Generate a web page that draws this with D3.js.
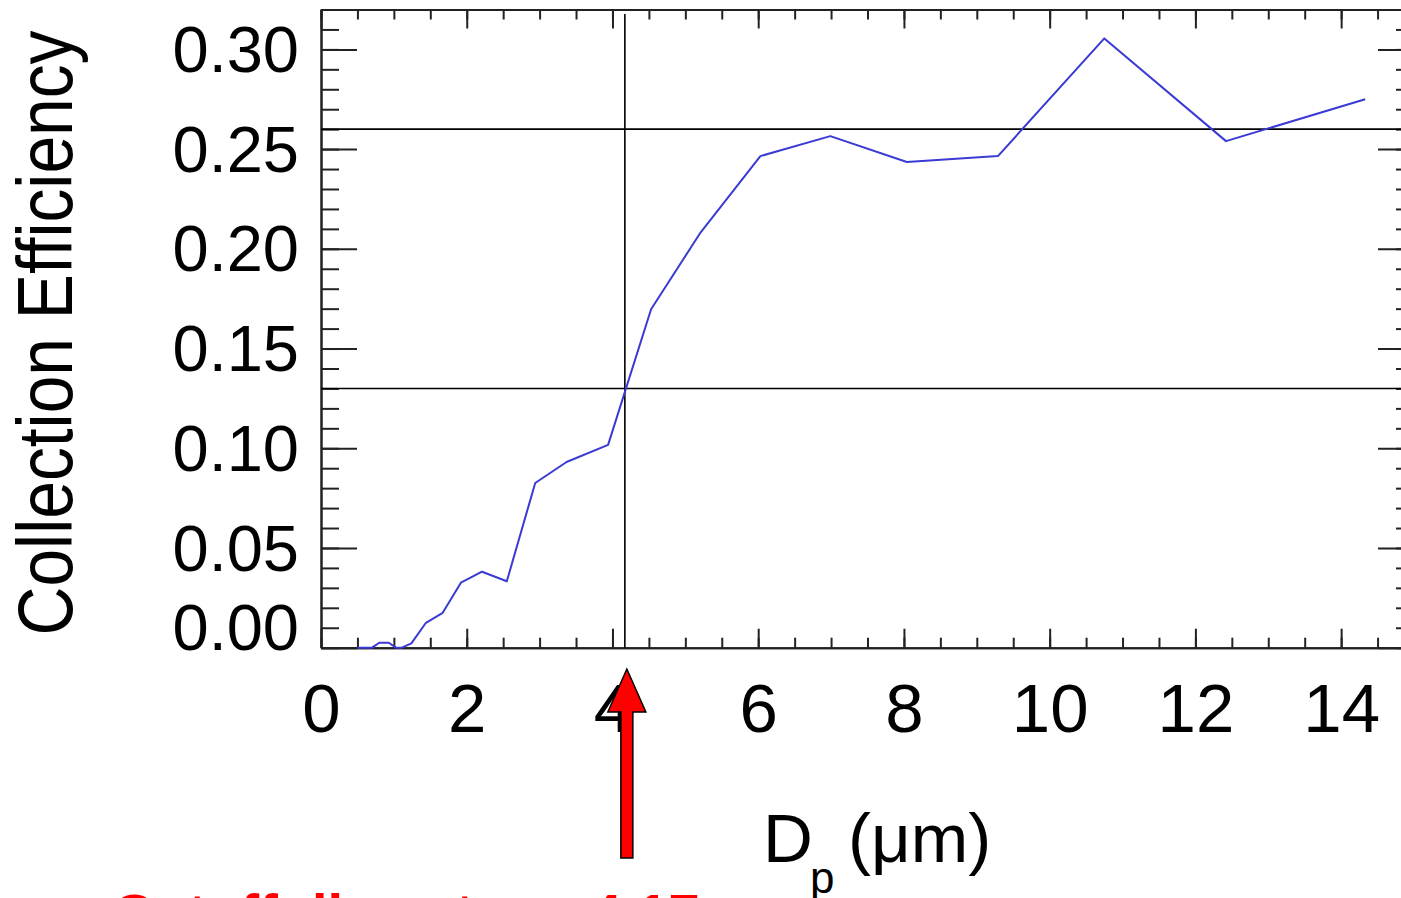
<!DOCTYPE html>
<html>
<head>
<meta charset="utf-8">
<script src="https://cdn.jsdelivr.net/npm/d3@7"></script>
<style>
  html, body { margin: 0; padding: 0; background: #fff; overflow: hidden; }
  svg { display: block; font-family: "Liberation Sans", Arial, Helvetica, sans-serif; }
</style>
</head>
<body>
<svg id="chart" width="1401" height="898"></svg>
<script>
// particle diameter (um) and collection efficiency
const diameters = [0.5, 0.70, 0.80, 0.93, 1.03, 1.11, 1.24, 1.44, 1.67, 1.92, 2.21, 2.55,
                   2.94, 3.37, 3.94, 4.53, 5.20, 6.03, 6.99, 8.04, 9.29, 10.75, 12.42, 14.33];
const efficiency = [0, 0, 0.0025, 0.0025, 0, 0, 0.0022, 0.0125, 0.0175, 0.0326, 0.0381, 0.0333,
                    0.0826, 0.0931, 0.1017, 0.1697, 0.2077, 0.2465, 0.2565, 0.2435, 0.2465, 0.3055, 0.254, 0.275];

const xTicks = [0, 2, 4, 6, 8, 10, 12, 14];
const yTicks = [0, 0.05, 0.10, 0.15, 0.20, 0.25, 0.30];

const plateau = 0.26;   // upper horizontal line
const halfLevel = 0.13; // 50% of plateau
const cutoff = 4.17;    // diameter where curve crosses half level

const svg = d3.select("#chart");

// plot frame goes past the right edge of the window, like the original
const plotL = 321, plotT = 9.5, plotR = 1414, plotB = 647.7;

const x = d3.scaleLinear().domain([0, 15]).range([plotL, plotR]);
const y = d3.scaleLinear().domain([0, 0.32]).range([plotB, plotT]);

const axisColor = "#222";

function styleAxis(g) {
    g.selectAll("path.domain").attr("stroke", axisColor).attr("stroke-width", 2);
    g.selectAll("line").attr("stroke", axisColor).attr("stroke-width", 2);
}

// minor ticks first
const xMinor = d3.range(0, 15.01, 0.5);
const yMinor = d3.range(0, 0.3201, 0.01);

svg.append("g").attr("transform", `translate(0,${plotB})`)
    .call(d3.axisBottom(x).tickValues(xMinor).tickFormat("").tickSize(-10).tickSizeOuter(0))
    .call(styleAxis);
svg.append("g").attr("transform", `translate(0,${plotT})`)
    .call(d3.axisTop(x).tickValues(xMinor).tickFormat("").tickSize(-10).tickSizeOuter(0))
    .call(styleAxis);
svg.append("g").attr("transform", `translate(${plotL},0)`)
    .call(d3.axisLeft(y).tickValues(yMinor).tickFormat("").tickSize(-18).tickSizeOuter(0))
    .call(styleAxis);
svg.append("g").attr("transform", `translate(${plotR},0)`)
    .call(d3.axisRight(y).tickValues(yMinor).tickFormat("").tickSize(-18).tickSizeOuter(0))
    .call(styleAxis);

// major ticks + labels
const xAxis = svg.append("g").attr("transform", `translate(0,${plotB})`)
    .call(d3.axisBottom(x).tickValues(xTicks).tickFormat(d3.format("d"))
        .tickSize(-19).tickSizeOuter(0).tickPadding(35))
    .call(styleAxis);
xAxis.selectAll("text")
    .attr("font-size", 69).attr("fill", "#000")
    .attr("font-family", "'Liberation Sans', Arial, sans-serif");

svg.append("g").attr("transform", `translate(0,${plotT})`)
    .call(d3.axisTop(x).tickValues(xTicks).tickFormat("").tickSize(-19).tickSizeOuter(0))
    .call(styleAxis);

const yAxis = svg.append("g").attr("transform", `translate(${plotL},0)`)
    .call(d3.axisLeft(y).tickValues(yTicks).tickFormat(d3.format(".2f"))
        .tickSize(-36).tickSizeOuter(0).tickPadding(22))
    .call(styleAxis);
yAxis.selectAll("text")
    .attr("font-size", 65).attr("fill", "#000")
    .attr("font-family", "'Liberation Sans', Arial, sans-serif")
    .attr("dy", d => d === 0 ? "0.02em" : "0.34em");

svg.append("g").attr("transform", `translate(${plotR},0)`)
    .call(d3.axisRight(y).tickValues(yTicks).tickFormat("").tickSize(-36).tickSizeOuter(0))
    .call(styleAxis);

// reference lines
[plateau, halfLevel].forEach(v => {
    svg.append("line")
        .attr("x1", x(0)).attr("x2", x(15))
        .attr("y1", y(v)).attr("y2", y(v))
        .attr("stroke", "#000").attr("stroke-width", 1.6);
});
svg.append("line")
    .attr("x1", x(cutoff)).attr("x2", x(cutoff))
    .attr("y1", y(0.3178)).attr("y2", y(0))
    .attr("stroke", "#000").attr("stroke-width", 1.6);

// efficiency curve
const data = diameters.map((d, i) => ({ dp: d, eff: efficiency[i] }));
svg.append("path")
    .datum(data)
    .attr("fill", "none")
    .attr("stroke", "#3a3ad4")
    .attr("stroke-width", 2)
    .attr("stroke-linejoin", "round")
    .attr("d", d3.line().x(d => x(d.dp)).y(d => y(d.eff)));

// axis titles
svg.append("text")
    .attr("transform", "translate(72,333) rotate(-90)")
    .attr("text-anchor", "middle")
    .attr("font-size", 78)
    .attr("textLength", 605)
    .attr("lengthAdjust", "spacingAndGlyphs")
    .text("Collection Efficiency");

const xt = svg.append("text").attr("y", 862).attr("font-size", 69);
xt.append("tspan").attr("x", 763).text("D");
xt.append("tspan").attr("x", 810).attr("y", 893).attr("font-size", 44).text("p");
xt.append("tspan").attr("x", 848).attr("y", 862).text("(\u03bcm)");

// red arrow pointing at the cutoff
const ax = x(cutoff) + 2;
const arrow = d3.path();
arrow.moveTo(ax - 6, 858);
arrow.lineTo(ax - 6, 712);
arrow.lineTo(ax - 19, 712);
arrow.lineTo(ax, 669);
arrow.lineTo(ax + 19, 712);
arrow.lineTo(ax + 6, 712);
arrow.lineTo(ax + 6, 858);
arrow.closePath();
svg.append("path")
    .attr("d", arrow.toString())
    .attr("fill", "#ff0000")
    .attr("stroke", "#000")
    .attr("stroke-width", 1.5)
    .attr("stroke-linejoin", "miter");

// caption, mostly below the visible area
svg.append("text")
    .attr("x", 113).attr("y", 933)
    .attr("font-size", 56)
    .attr("font-weight", "bold")
    .attr("fill", "#ff0000")
    .text("Cutoff diameter ~ 4.17 \u03bcm");
</script>
</body>
</html>
